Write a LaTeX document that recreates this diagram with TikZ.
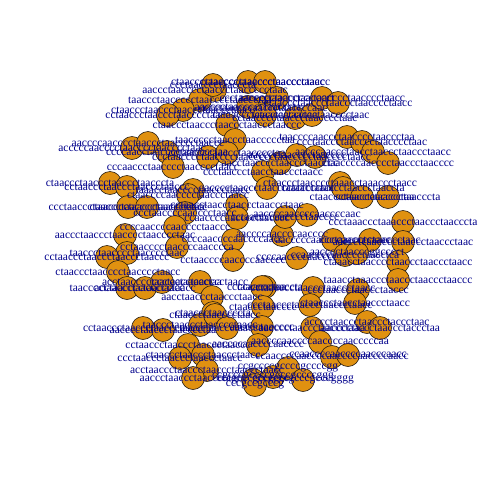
\documentclass[tikz,border=0pt]{standalone}
\usepackage{fontspec}
\setmainfont{Liberation Serif}
\usetikzlibrary{positioning}
\definecolor{vertexorange}{RGB}{224,145,16}
\definecolor{labelblue}{RGB}{0,0,139}
\definecolor{rimgray}{RGB}{40,30,20}

% vertex list: x/y/label (pixels, y downwards)
\def\vertexlist{%
248/82/ctaaccctaacccctaacccctaaccctaacc,
265/82/cctaacccctaaccctaacccctaacc,
215/90/aaccctaacccctaaccctaaccccctaac,
200/100/taaccctaaccccctaacccctaaccctaa,
183/110/ctaaccctaaccctaaccctaaccctaacc,
168/115/cctaaccctaaccctaacccctaacc,
263/108/cccctaaccccaaccctaaccccaac,
277/98/ccctaacccctaaccctaacccct,
248/107/aacccctaaccccctaacccta,
265/115/cctaaccctaacctaaccctaa,
295/118/cctaacccctaaccctaacccctaac,
312/115/ctaaccctaaccctaacccctaac,
322/98/aaccccctaaccccctaacccctaacccctaacc,
338/103/ctaaccctaaccctaaccctaacccctaacc,
213/85/ccctaacccctaacccta,
227/125/ctaaccctaaccctaaccctaaccctaaccc,
235/140/taaccccctaaccctaaccccctaa,
132/148/acccccaacccctaacccctaacccctaac,
148/143/aaccccaacccctaaccctaacccctaaccc,
167/152/ccccaacctaacccctaacccctaa,
173/167/cccaaccctaacccctaacccctaacc,
208/157/ccctaacccctaacccctaaccc,
227/153/cctaaccccaaccctaacccctaa,
263/172/ccctaaccctaacctaaccctaacc,
280/163/aacctaacccctaaccctaacccc,
110/183/ctaaccctaaccctaaccctaacccta,
127/187/cctaaccctaaccctaaccctaaccc,
193/190/taaacctaacccctaaccctaacc,
347/137/taaccccaaccctaacccctaaccctaa,
362/142/ccctaaccctaacccctaacccctaac,
373/152/aacccaaccctaacctaaccctaaccctaacc,
388/163/ctaaccccaacccctaaccctaacccc,
297/155/aacccctaacccctaacccc,
315/157/ccctaaccccctaacccctaacc,
340/183/ctaaccctaacccctaaacctaaaccctaacc,
128/207/ccctaaccctaaccctaacccctaaccctaacc,
147/207/ctaacccctaaccctaacccctaa,
188/195/ctaaccccaacccctaaccctaacc,
185/213/ccctaaccccaacccctaacc,
175/227/ccccaaccccaacccctaaccc,
237/205/cctaacctaacctaaccctaaccctaac,
237/218/ccaaccccaacccctaacccc,
233/240/ccccaaccccaaccccaacc,
233/260/cctaaccccaaccccaacccc,
267/188/aacccctaaccctaacctaaccctaacc,
282/235/aaccccaaccccaacccc,
285/217/cctaaccccaacccctaacccc,
125/235/aaccctaaccctaacccctaacccctaac,
127/253/taaccctaacccctaacccctaac,
177/247/cctaacccctaaccccaacccca,
107/257/cctaaccctaaccctaaccctaaccc,
118/272/ctaaccctaacccctaacccctaacc,
127/288/taacccctaaccctaaccctaacc,
145/288/acctaacccctaaccctaacc,
162/282/acctaacccctaaccctaaccctaa,
200/282/ccctaacctaacccctaacc,
212/297/aacctaaccctaaccctaacc,
213/313/ctaaccctaaccccta,
265/287/cctaacccctaaccta,
343/188/cctaaccctaacctaaccctaaccta,
362/197/ctaaccctaacctaacccctaa,
388/197/cctaaccctaaccctaacccta,
307/215/aaccccaaccccaaccccaac,
333/240/aacccccaaccccaacccctaac,
370/240/ccctaaccctcaacccctaac,
403/222/ccctaaaccctaaaccctaaccctaacccta,
403/242/aaccctcaacccctaaccctaaccctaac,
345/255/ccaaccccaacccctaacctca,
357/253/aacccctaacccggcccct,
398/262/ctaaacctaacccctaaccctaaccctaacc,
398/280/taaacctaaaccctaaccctaaccctaaccc,
297/258/ccccaaccccaacccc,
262/287/ccaaccctaa,
263/307/ctaaccctaacccc,
262/327/aacccctaacccc,
313/288/cctaacccctaaccctaaccctaacc,
310/305/ccctaaccctaaccctaaccctaacc,
358/290/ccctaaccctaaccctaaccc,
355/303/ctaaccctaacctaaccctaacc,
312/328/aacccctaaccctaacccctaa,
367/322/acccctaaccctaaccctaccctaac,
380/328/aaccctaaccctaaccctaccctaa,
143/328/cctaaccctaaccctaaccctaacc,
163/330/aacccctaaccctaacccctaa,
200/325/taaccctaaccctaacccctaacc,
215/315/ctaaccctaacccctaacc,
227/328/aaccctaaccctaaccccc,
188/345/cctaaccctaaccctaaccctaaccc,
180/358/ccctaaccctaaccctaaccctaacc,
203/355/ctaaccctaaccctaaccctaacc,
207/370/acctaaccctaaccctaaccctaaccctaacc,
193/378/aaccctaaccctaaccctaacc,
253/380/cccgcccgcccgcc,
273/377/ccgcccgccccgcccgccccggg,
288/368/ccgccccgccccgccccgg,
258/345/aaccccaaccccaacccc,
320/342/aaccccaaccccaaccccaacccccaa,
332/357/ccaaccccaaccccaaccccaaccccaacc,
348/355/ccaaccccaaccccaacccaacc,
303/380/cccgcccgcccgcccgggg,
255/385/cccgccgcccg%
}

\begin{document}
\begin{tikzpicture}[x=1pt, y=-1pt,
    vertex/.style={circle, draw=rimgray, line width=0.6pt,
                   fill=vertexorange, minimum size=23pt, inner sep=0pt},
    vlabel/.style={text=labelblue, inner sep=0pt,
                   font=\fontsize{11.5}{11.5}\selectfont}]
  \useasboundingbox (0,0) rectangle (480,480);
  % vertices first
  \foreach \vx/\vy/\vt [count=\i] in \vertexlist
    \node[vertex] (v\i) at (\vx,\vy) {};
  % labels on top
  \foreach \vx/\vy/\vt [count=\i] in \vertexlist
    \node[vlabel] (l\i) at (v\i) {\vt};
\end{tikzpicture}
\end{document}
